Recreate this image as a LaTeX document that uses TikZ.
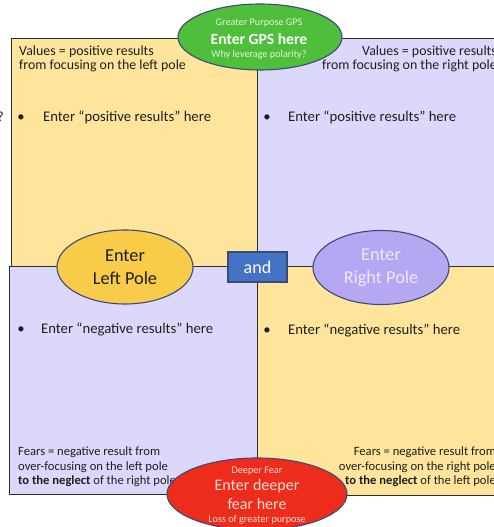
\documentclass[tikz,border=0pt]{standalone}
\usepackage{fontspec}
\setmainfont{Carlito}
\usetikzlibrary{shapes.geometric}
\definecolor{qyel}{HTML}{FFE59C}
\definecolor{qlav}{HTML}{DCD8FB}
\definecolor{edgec}{HTML}{2E2E33}
\definecolor{ggreen}{HTML}{4FBE3B}
\definecolor{gold}{HTML}{F8CB48}
\definecolor{purp}{HTML}{B6A7F3}
\definecolor{andblue}{HTML}{4472C4}
\definecolor{fred}{HTML}{EE2C1C}
\definecolor{rim}{HTML}{3A4A7A}
\definecolor{txt}{HTML}{1E1E1E}
\definecolor{palegreen}{HTML}{E4F4DC}
\definecolor{palered}{HTML}{FBE0D8}
\definecolor{palepurp}{HTML}{ECE8FF}
\begin{document}
\begin{tikzpicture}[x=1pt,y=-1pt,
  quad/.style={draw=edgec, line width=1.3pt, rectangle, inner sep=0pt, anchor=north west},
  body/.style={inner sep=0pt, text=txt, font=\fontsize{13.9}{14.5}\selectfont},
  bullettxt/.style={inner sep=0pt, text=txt, font=\fontsize{14.7}{16}\selectfont},
  fears/.style={inner sep=0pt, text=txt, font=\fontsize{12.6}{14.2}\selectfont},
  oval/.style={ellipse, draw=rim, line width=1.1pt, inner sep=0pt, align=center},
  small/.style={font=\fontsize{10.2}{11}\selectfont}
]
\useasboundingbox (0,0) rectangle (494,527);
\clip (0,0) rectangle (494,527);
\fill[white] (0,0) rectangle (494,527);

% quadrants
\node[quad, fill=qyel, minimum width=246pt, minimum height=228pt] (tl) at (11,38) {};
\node[quad, fill=qlav, minimum width=263pt, minimum height=228pt] (tr) at (257,38) {};
\node[quad, fill=qlav, minimum width=248pt, minimum height=228pt] (bl) at (9,266) {};
\node[quad, fill=qyel, minimum width=263pt, minimum height=229pt] (br) at (257,266) {};

% cut-off mark at left edge
\node[body, anchor=base east] (q) at (4,121) {?};

% top texts
\node[body, anchor=north west, align=left] (tlv) at (19,45.5) {Values = positive results\\from focusing on the left pole};
\node[body, anchor=north east, align=right] (trv) at (497,45.5) {Values = positive results\\from focusing on the right pole};
\node[bullettxt, anchor=base] (tlb) at (21,121) {•};
\node[bullettxt, anchor=base west] (tlt) at (43,121) {Enter “positive results” here};
\node[bullettxt, anchor=base] (trb) at (267,121) {•};
\node[bullettxt, anchor=base west] (trt) at (288,121) {Enter “positive results” here};

% bottom texts
\node[bullettxt, anchor=base] (blb) at (21,333) {•};
\node[bullettxt, anchor=base west] (blt) at (41,333) {Enter “negative results” here};
\node[bullettxt, anchor=base] (brb) at (267,334) {•};
\node[bullettxt, anchor=base west] (brt) at (288,334) {Enter “negative results” here};
\node[fears, anchor=north west, align=left] (blf) at (18,447) {Fears = negative result from\\over-focusing on the left pole\\\textbf{to the neglect} of the right pole};
\node[fears, anchor=north east, align=right] (brf) at (496,447) {Fears = negative result from\\over-focusing on the right pole\\\textbf{to the neglect} of the left pole};

% poles
\node[oval, fill=gold, minimum width=136pt, minimum height=74pt, text=txt, font=\fontsize{18.3}{23}\selectfont] (lp) at (125,267) {Enter\\Left Pole};
\node[oval, fill=purp, minimum width=136pt, minimum height=74pt, text=palepurp, font=\fontsize{18.3}{23}\selectfont] (rp) at (381,267.5) {Enter\\Right Pole};
\node[draw=rim, line width=1.1pt, fill=andblue, minimum width=59pt, minimum height=30pt, inner sep=0pt, text=white, font=\fontsize{18}{20}\selectfont] (and) at (257.5,267) {and};

% GPS
\node[oval, fill=ggreen, minimum width=164pt, minimum height=66pt] (gps) at (260,37) {};
\node[small, text=palegreen] (gps1) at (259,23) {Greater Purpose GPS};
\node[text=white, font=\bfseries\fontsize{15.6}{17}\selectfont] (gps2) at (259,39) {Enter GPS here};
\node[small, text=palegreen] (gps3) at (259,55) {Why leverage polarity?};

% deeper fear
\node[oval, fill=fred, minimum width=180pt, minimum height=72pt] (fear) at (257,494) {};
\node[small, text=palered] (f1) at (257,471) {Deeper Fear};
\node[text=palered, font=\fontsize{16}{17}\selectfont] (f2) at (257,486.5) {Enter deeper};
\node[text=palered, font=\fontsize{16}{17}\selectfont] (f3) at (257,503.5) {fear here};
\node[small, text=palered] (f4) at (257,520) {Loss of greater purpose};
\end{tikzpicture}
\end{document}
